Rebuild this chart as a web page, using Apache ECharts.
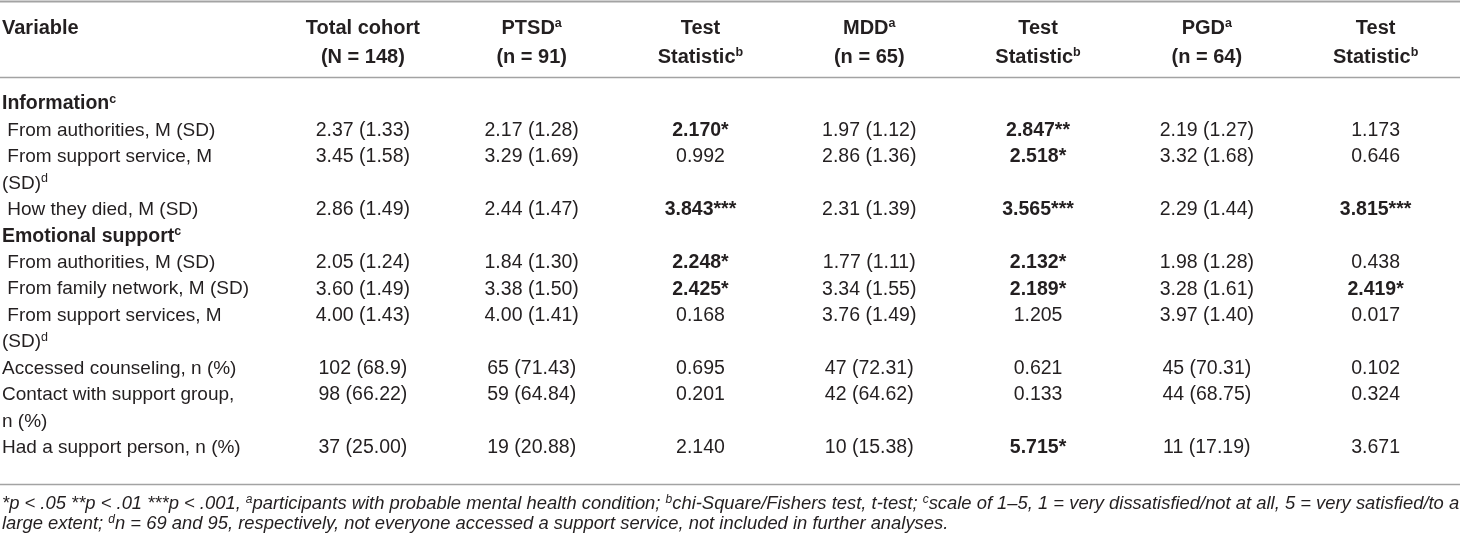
<!DOCTYPE html>
<html>
<head>
<meta charset="utf-8">
<script src="https://cdn.jsdelivr.net/npm/echarts@6/dist/echarts.min.js"></script>
<style>
    html, body { margin: 0; padding: 0; background: #fff; }
    #chart { width: 1460px; height: 540px; }
</style>
</head>
<body>
<div id="chart"></div>
<script>
// header cells, two lines per column
const headerLine1 = ['Total cohort', 'PTSD', 'Test', 'MDD', 'Test', 'PGD', 'Test'];
const headerLine2 = ['(N = 148)', '(n = 91)', 'Statistic', '(n = 65)', 'Statistic', '(n = 64)', 'Statistic'];
const headerSup1 = ['', 'a', '', 'a', '', 'a', ''];
const headerSup2 = ['', '', 'b', '', 'b', '', 'b'];

// variable column (\n = wrapped line in the original)
const variables = [
    'Information',
    ' From authorities, M (SD)',
    ' From support service, M\n(SD)',
    ' How they died, M (SD)',
    'Emotional support',
    ' From authorities, M (SD)',
    ' From family network, M (SD)',
    ' From support services, M\n(SD)',
    'Accessed counseling, n (%)',
    'Contact with support group,\nn (%)',
    'Had a support person, n (%)'
];
const variableSup = ['c', '', 'd', '', 'c', '', '', 'd', '', '', ''];
const sectionRows = [0, 4];

// values per column (bold = contains a significance star)
const totalCohort = ['', '2.37 (1.33)', '3.45 (1.58)', '2.86 (1.49)', '', '2.05 (1.24)', '3.60 (1.49)', '4.00 (1.43)', '102 (68.9)', '98 (66.22)', '37 (25.00)'];
const ptsd = ['', '2.17 (1.28)', '3.29 (1.69)', '2.44 (1.47)', '', '1.84 (1.30)', '3.38 (1.50)', '4.00 (1.41)', '65 (71.43)', '59 (64.84)', '19 (20.88)'];
const ptsdTest = ['', '2.170*', '0.992', '3.843***', '', '2.248*', '2.425*', '0.168', '0.695', '0.201', '2.140'];
const mdd = ['', '1.97 (1.12)', '2.86 (1.36)', '2.31 (1.39)', '', '1.77 (1.11)', '3.34 (1.55)', '3.76 (1.49)', '47 (72.31)', '42 (64.62)', '10 (15.38)'];
const mddTest = ['', '2.847**', '2.518*', '3.565***', '', '2.132*', '2.189*', '1.205', '0.621', '0.133', '5.715*'];
const pgd = ['', '2.19 (1.27)', '3.32 (1.68)', '2.29 (1.44)', '', '1.98 (1.28)', '3.28 (1.61)', '3.97 (1.40)', '45 (70.31)', '44 (68.75)', '11 (17.19)'];
const pgdTest = ['', '1.173', '0.646', '3.815***', '', '0.438', '2.419*', '0.017', '0.102', '0.324', '3.671'];

const footnote = '*p < .05 **p < .01 ***p < .001, {s|a}participants with probable mental health condition; {s|b}chi-Square/Fishers test, t-test; {s|c}scale of 1\u20135, 1 = very dissatisfied/not at all, 5 = very satisfied/to a\n' +
    'large extent; {s|d}n = 69 and 95, respectively, not everyone accessed a support service, not included in further analyses.';

const columns = [totalCohort, ptsd, ptsdTest, mdd, mddTest, pgd, pgdTest];

const FONT = '"Liberation Sans", Arial, Helvetica, sans-serif';
const INK = '#231f20';
const RULE = '#a3a3a3';
const RICH = {
    r: { fontSize: 19.5, fontFamily: FONT, fill: INK, lineHeight: 22 },
    b: { fontSize: 19.5, fontFamily: FONT, fill: INK, fontWeight: 'bold', lineHeight: 22 },
    v: { fontSize: 19, fontFamily: FONT, fill: INK, lineHeight: 22 },
    vb: { fontSize: 19.5, fontFamily: FONT, fill: INK, fontWeight: 'bold', lineHeight: 22 },
    h: { fontSize: 20, fontFamily: FONT, fill: INK, fontWeight: 'bold', lineHeight: 22 },
    s: { fontSize: 12.5, fontFamily: FONT, fill: INK, verticalAlign: 'top', lineHeight: 13 },
    bs: { fontSize: 12.5, fontFamily: FONT, fill: INK, fontWeight: 'bold', verticalAlign: 'top', lineHeight: 13 }
};

function tok(style, str) {
    return str ? '{' + style + '|' + str + '}' : '';
}

// line index of each variable row
const rowLine = [];
let lineCount = 0;
variables.forEach(function (v) {
    rowLine.push(lineCount);
    lineCount += v.split('\n').length;
});
const bodyLines = [];
for (let i = 0; i < lineCount; i++) bodyLines.push(String(i));

// header cells
const headCells = [];
headerLine1.forEach(function (t, c) {
    headCells.push({ col: c, line: 0, rich: tok('h', t) + tok('bs', headerSup1[c]) });
    headCells.push({ col: c, line: 1, rich: tok('h', headerLine2[c]) + tok('bs', headerSup2[c]) });
});
const varHeadCells = [{ col: 0, line: 0, rich: tok('h', 'Variable') }];

// variable cells
const varCells = [];
variables.forEach(function (v, r) {
    const parts = v.split('\n');
    const bold = sectionRows.indexOf(r) >= 0;
    parts.forEach(function (p, k) {
        const last = k === parts.length - 1;
        varCells.push({
            col: 0,
            line: rowLine[r] + k,
            rich: tok(bold ? 'vb' : 'v', p) + (last ? tok(bold ? 'bs' : 's', variableSup[r]) : '')
        });
    });
});

// value cells
const bodyCells = [];
columns.forEach(function (values, c) {
    values.forEach(function (v, r) {
        if (!v) return;
        bodyCells.push({ col: c, line: rowLine[r], rich: tok(v.indexOf('*') >= 0 ? 'b' : 'r', v) });
    });
});

function cellRenderer(items, alignLeft) {
    return function (params, api) {
        const item = items[params.dataIndex];
        const p = api.coord([api.value(0), api.value(1)]);
        return {
            type: 'text',
            x: alignLeft ? params.coordSys.x : p[0],
            y: p[1],
            style: {
                text: item.rich,
                rich: RICH,
                fill: INK,
                fontFamily: FONT,
                fontSize: 19.5,
                align: alignLeft ? 'left' : 'center',
                verticalAlign: 'middle'
            }
        };
    };
}

function cellSeries(items, idx, alignLeft) {
    return {
        type: 'custom',
        xAxisIndex: idx,
        yAxisIndex: idx,
        silent: true,
        clip: false,
        renderItem: cellRenderer(items, alignLeft),
        data: items.map(function (d) { return [d.col, d.line]; })
    };
}

const valueCols = headerLine1.map(function (t, i) { return String(i); });
const hidden = { show: false };

const chart = echarts.init(document.getElementById('chart'), null, { renderer: 'canvas' });
chart.setOption({
    backgroundColor: '#ffffff',
    animation: false,
    title: {
        text: footnote,
        left: 2,
        top: 494,
        padding: 0,
        textStyle: {
            fontFamily: FONT,
            fontSize: 18.4,
            fontStyle: 'italic',
            fontWeight: 'normal',
            color: INK,
            lineHeight: 20,
            rich: {
                s: { fontFamily: FONT, fontSize: 12, fontStyle: 'italic', color: INK, verticalAlign: 'top', lineHeight: 12 }
            }
        }
    },
    grid: [
        { left: 278.5, width: 1225, top: 13.5, height: 58 },
        { left: 278.5, width: 1225, top: 90.8, height: 370.4 },
        { left: 2, width: 270, top: 13.5, height: 58 },
        { left: 2, width: 270, top: 90.8, height: 370.4 }
    ],
    xAxis: [
        Object.assign({ type: 'category', gridIndex: 0, data: valueCols }, hidden),
        Object.assign({ type: 'category', gridIndex: 1, data: valueCols }, hidden),
        Object.assign({ type: 'category', gridIndex: 2, data: ['0'] }, hidden),
        Object.assign({ type: 'category', gridIndex: 3, data: ['0'] }, hidden)
    ],
    yAxis: [
        Object.assign({ type: 'category', gridIndex: 0, inverse: true, data: ['0', '1'] }, hidden),
        Object.assign({ type: 'category', gridIndex: 1, inverse: true, data: bodyLines }, hidden),
        Object.assign({ type: 'category', gridIndex: 2, inverse: true, data: ['0', '1'] }, hidden),
        Object.assign({ type: 'category', gridIndex: 3, inverse: true, data: bodyLines }, hidden)
    ],
    graphic: [
        { type: 'line', silent: true, shape: { x1: 0, y1: 1.5, x2: 1460, y2: 1.5 }, style: { stroke: RULE, lineWidth: 2 } },
        { type: 'line', silent: true, shape: { x1: 0, y1: 77.5, x2: 1460, y2: 77.5 }, style: { stroke: RULE, lineWidth: 1.5 } },
        { type: 'line', silent: true, shape: { x1: 0, y1: 484.5, x2: 1460, y2: 484.5 }, style: { stroke: RULE, lineWidth: 1.5 } }
    ],
    series: [
        cellSeries(headCells, 0, false),
        cellSeries(bodyCells, 1, false),
        cellSeries(varHeadCells, 2, true),
        cellSeries(varCells, 3, true)
    ]
});
</script>
</body>
</html>
